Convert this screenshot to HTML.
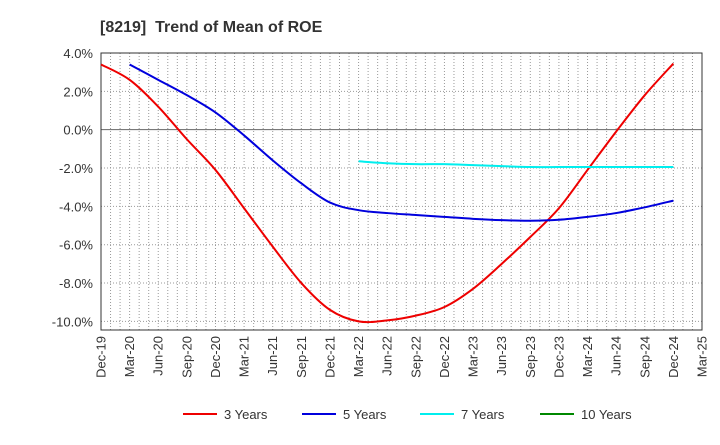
<!DOCTYPE html>
<html><head><meta charset="utf-8"><style>
body{margin:0;background:#fff;font-family:"Liberation Sans",sans-serif}
svg text{font-family:"Liberation Sans",sans-serif}
</style></head><body>
<svg id="chart" width="720" height="440" viewBox="0 0 720 440" xmlns="http://www.w3.org/2000/svg">
<text x="100" y="32" font-size="16" font-weight="bold" fill="#333" xml:space="preserve">[8219]  Trend of Mean of ROE</text>
<g id="grid"></g>
<g id="axes"></g>
<g id="series"></g>
<g id="legend"></g>
</svg>
<script>
const categories=["Dec-19","Mar-20","Jun-20","Sep-20","Dec-20","Mar-21","Jun-21","Sep-21","Dec-21","Mar-22","Jun-22","Sep-22","Dec-22","Mar-23","Jun-23","Sep-23","Dec-23","Mar-24","Jun-24","Sep-24","Dec-24","Mar-25"];
const yTicks=[4,2,0,-2,-4,-6,-8,-10];
const s3=[3.4,2.6,1.2,-0.5,-2.1,-4.1,-6.1,-8.0,-9.4,-10.0,-9.95,-9.7,-9.25,-8.3,-7.0,-5.6,-4.1,-2.1,-0.1,1.8,3.45,null];
const s5=[null,3.4,2.6,1.8,0.9,-0.3,-1.6,-2.8,-3.8,-4.2,-4.35,-4.45,-4.55,-4.65,-4.72,-4.75,-4.7,-4.55,-4.35,-4.05,-3.7,null];
const s7=[null,null,null,null,null,null,null,null,null,-1.65,-1.75,-1.8,-1.8,-1.85,-1.9,-1.95,-1.95,-1.95,-1.95,-1.95,-1.95,null];
const s10=[];
const seriesNames=["3 Years","5 Years","7 Years","10 Years"];
const colors=["#ee0000","#0000dd","#00eeee","#008800"];
const L=101,R=702,T=53,B=330,yMax=4,yMin=-10.45;
const ns="http://www.w3.org/2000/svg";
function X(i){return L+(R-L)*i/(categories.length-1);}
function Y(v){return T+(yMax-v)/(yMax-yMin)*(B-T);}
function mk(tag,attrs,parent){const e=document.createElementNS(ns,tag);for(const k in attrs)e.setAttribute(k,attrs[k]);parent.appendChild(e);return e;}
const grid=document.getElementById('grid'),axes=document.getElementById('axes'),ser=document.getElementById('series'),leg=document.getElementById('legend');
for(let m=1;m<(categories.length-1)*3;m++){const x=L+(R-L)*m/((categories.length-1)*3);
const g=mk('line',{x1:x,x2:x,y1:T,y2:B,stroke:'#999','stroke-dasharray':'1,2','stroke-width':1},grid);

}
yTicks.forEach(v=>{const y=Y(v);
const g=mk('line',{x1:L,x2:R,y1:y,y2:y,stroke:v===0?'#666':'#999','stroke-dasharray':v===0?'':'1,2','stroke-width':1},grid);


const t=mk('text',{x:L-8,y:y+5,'text-anchor':'end','font-size':13,fill:'#333'},axes);t.textContent=v.toFixed(1)+'%';

});
const fr=mk('rect',{x:L,y:T,width:R-L,height:B-T,fill:'none',stroke:'#333','stroke-width':1},axes);


categories.forEach((c,i)=>{const x=X(i);const t=mk('text',{x:0,y:0,'text-anchor':'end','font-size':13,fill:'#333',transform:`translate(${x+4.5},${B+6}) rotate(-90)`},axes);t.textContent=c;

});
function pathFor(arr){const pts=[];arr.forEach((v,i)=>{if(v!==null&&v!==undefined)pts.push([X(i),Y(v)]);});
if(pts.length<2)return '';let d=`M${pts[0][0]},${pts[0][1]}`;
for(let i=0;i<pts.length-1;i++){const p0=pts[Math.max(0,i-1)],p1=pts[i],p2=pts[i+1],p3=pts[Math.min(pts.length-1,i+2)];
const c1=[p1[0]+(p2[0]-p0[0])/6,p1[1]+(p2[1]-p0[1])/6],c2=[p2[0]-(p3[0]-p1[0])/6,p2[1]-(p3[1]-p1[1])/6];
d+=` C${c1[0]},${c1[1]} ${c2[0]},${c2[1]} ${p2[0]},${p2[1]}`;}return d;}
[s3,s5,s7,s10].forEach((s,k)=>{const d=pathFor(s);if(!d)return;
const p=mk('path',{d:d,fill:'none',stroke:colors[k],'stroke-width':2},ser);

});
const lx=[183,302,420,540];
seriesNames.forEach((n,k)=>{const g=mk('g',{},leg);


mk('line',{x1:lx[k],x2:lx[k]+34,y1:414,y2:414,stroke:colors[k],'stroke-width':2},g);
const t=mk('text',{x:lx[k]+41,y:419,'font-size':13,fill:'#333'},g);t.textContent=n;});
</script>
</body></html>
